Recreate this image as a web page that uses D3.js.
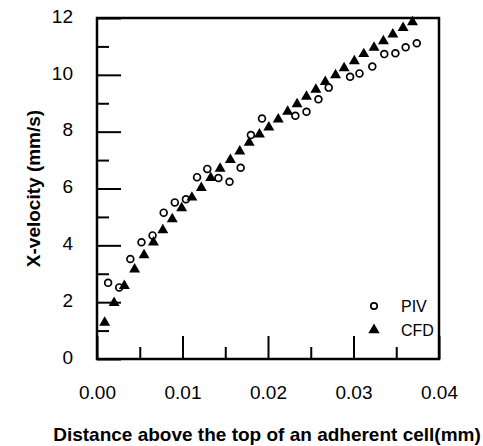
<!DOCTYPE html>
<html>
<head>
<meta charset="utf-8">
<script src="https://cdnjs.cloudflare.com/ajax/libs/d3/7.8.5/d3.min.js"></script>
<style>
    body { margin: 0; background: #fff; }
    svg { display: block; font-family: Arial, "Liberation Sans", sans-serif; }
</style>
</head>
<body>
<div class="chart"></div>
<script>
// tick values
var xMajor = [0, 0.01, 0.02, 0.03, 0.04];
var xMinor = [0.005, 0.015, 0.025, 0.035];
var yMajor = [0, 2, 4, 6, 8, 10, 12];
var yMinor = [1, 3, 5, 7, 9, 11];

// PIV measurements (circles)
var pivX = [0.0013, 0.0026, 0.0039, 0.0052, 0.0065, 0.0078, 0.0091, 0.0104, 0.0117, 0.0129,
            0.0142, 0.0155, 0.0168, 0.0180, 0.0193, 0.0232, 0.0245, 0.0259, 0.0271, 0.0296,
            0.0307, 0.0322, 0.0336, 0.0349, 0.0361, 0.0374];
var pivV = [2.68, 2.52, 3.52, 4.11, 4.35, 5.15, 5.51, 5.62, 6.40, 6.69,
            6.37, 6.24, 6.73, 7.88, 8.46, 8.56, 8.70, 9.14, 9.55, 9.93,
            10.05, 10.29, 10.73, 10.76, 10.97, 11.11];

// CFD results (triangles)
var cfdX = [0.0009, 0.0020, 0.0032, 0.0044, 0.0055, 0.0066, 0.0077, 0.0088, 0.0099, 0.0111,
            0.0122, 0.0133, 0.0144, 0.0156, 0.0167, 0.0178, 0.0190, 0.0201, 0.0212, 0.0223,
            0.0234, 0.0245, 0.0256, 0.0267, 0.0279, 0.0289, 0.0301, 0.0312, 0.0324, 0.0335,
            0.0346, 0.0358, 0.0369];
var cfdV = [1.32, 2.01, 2.61, 3.19, 3.69, 4.14, 4.57, 4.96, 5.35, 5.72,
            6.06, 6.41, 6.74, 7.04, 7.34, 7.65, 7.94, 8.19, 8.47, 8.74,
            9.01, 9.27, 9.52, 9.79, 10.03, 10.27, 10.52, 10.77, 10.99, 11.22,
            11.46, 11.69, 11.89];

var legendLabels = ['PIV', 'CFD'];

var W = 483, H = 446;
var m = {left: 97, top: 18};
var w = 342, h = 341;

var svg = d3.select('.chart').append('svg')
    .attr('width', W)
    .attr('height', H);

var g = svg.append('g').attr('transform', 'translate(' + m.left + ',' + m.top + ')');

var x = d3.scaleLinear().domain([0, 0.04]).range([0, w]);
var y = d3.scaleLinear().domain([0, 12]).range([h, 0]);

var styleAxis = function(sel){
    sel.select('.domain').remove();
    sel.selectAll('line').attr('stroke', '#000').attr('stroke-width', 2);
    sel.selectAll('text')
        .attr('fill', '#000')
        .style('font-size', '19px')
        .style('font-family', 'Arial, "Liberation Sans", sans-serif');
};

// x axis, ticks pointing inwards
g.append('g')
    .attr('transform', 'translate(0,' + h + ')')
    .call(d3.axisBottom(x).tickValues(xMajor).tickSize(-23).tickPadding(27).tickFormat(d3.format('.2f')))
    .call(styleAxis);
g.append('g')
    .attr('transform', 'translate(0,' + h + ')')
    .call(d3.axisBottom(x).tickValues(xMinor).tickSize(-12).tickFormat(''))
    .call(styleAxis);

// y axis
g.append('g')
    .call(d3.axisLeft(y).tickValues(yMajor).tickSize(-24).tickPadding(24).tickFormat(d3.format('d')))
    .call(styleAxis)
    .selectAll('text').attr('dy', '0.22em');
g.append('g')
    .call(d3.axisLeft(y).tickValues(yMinor).tickSize(-12).tickFormat(''))
    .call(styleAxis);

// frame
g.append('rect')
    .attr('width', w)
    .attr('height', h)
    .attr('fill', 'none')
    .attr('stroke', '#000')
    .attr('stroke-width', 2.5);

var piv = pivX.map(function(d, i){ return {x: d, v: pivV[i]}; });
var cfd = cfdX.map(function(d, i){ return {x: d, v: cfdV[i]}; });

var tri = d3.symbol().type(d3.symbolTriangle).size(52);

g.selectAll('circle.piv')
    .data(piv)
    .enter()
    .append('circle')
    .attr('class', 'piv')
    .attr('cx', function(d){ return x(d.x); })
    .attr('cy', function(d){ return y(d.v); })
    .attr('r', 3.4)
    .attr('fill', 'none')
    .attr('stroke', '#000')
    .attr('stroke-width', 1.7);

g.selectAll('path.cfd')
    .data(cfd)
    .enter()
    .append('path')
    .attr('class', 'cfd')
    .attr('d', tri)
    .attr('transform', function(d){ return 'translate(' + x(d.x) + ',' + (y(d.v) + 1) + ')'; })
    .attr('fill', '#000');

// legend
var lg = g.append('g').attr('transform', 'translate(' + (w - 65) + ',' + (h - 53) + ')');
lg.append('circle')
    .attr('cx', 0).attr('cy', 0).attr('r', 3.2)
    .attr('fill', 'none').attr('stroke', '#000').attr('stroke-width', 1.7);
lg.append('path')
    .attr('d', d3.symbol().type(d3.symbolTriangle).size(56))
    .attr('transform', 'translate(0,24)')
    .attr('fill', '#000');
lg.selectAll('text')
    .data(legendLabels)
    .enter()
    .append('text')
    .attr('x', 27)
    .attr('y', function(d, i){ return i * 24 + 6; })
    .style('font-size', '16px')
    .text(function(d){ return d; });

// axis titles
svg.append('text')
    .attr('x', 267)
    .attr('y', 441)
    .attr('text-anchor', 'middle')
    .style('font-size', '19px')
    .style('font-weight', 'bold')
    .text('Distance above the top of an adherent cell(mm)');

svg.append('text')
    .attr('transform', 'translate(40,' + (m.top + h / 2) + ') rotate(-90)')
    .attr('text-anchor', 'middle')
    .style('font-size', '19px')
    .style('font-weight', 'bold')
    .text('X-velocity (mm/s)');
</script>
</body>
</html>
